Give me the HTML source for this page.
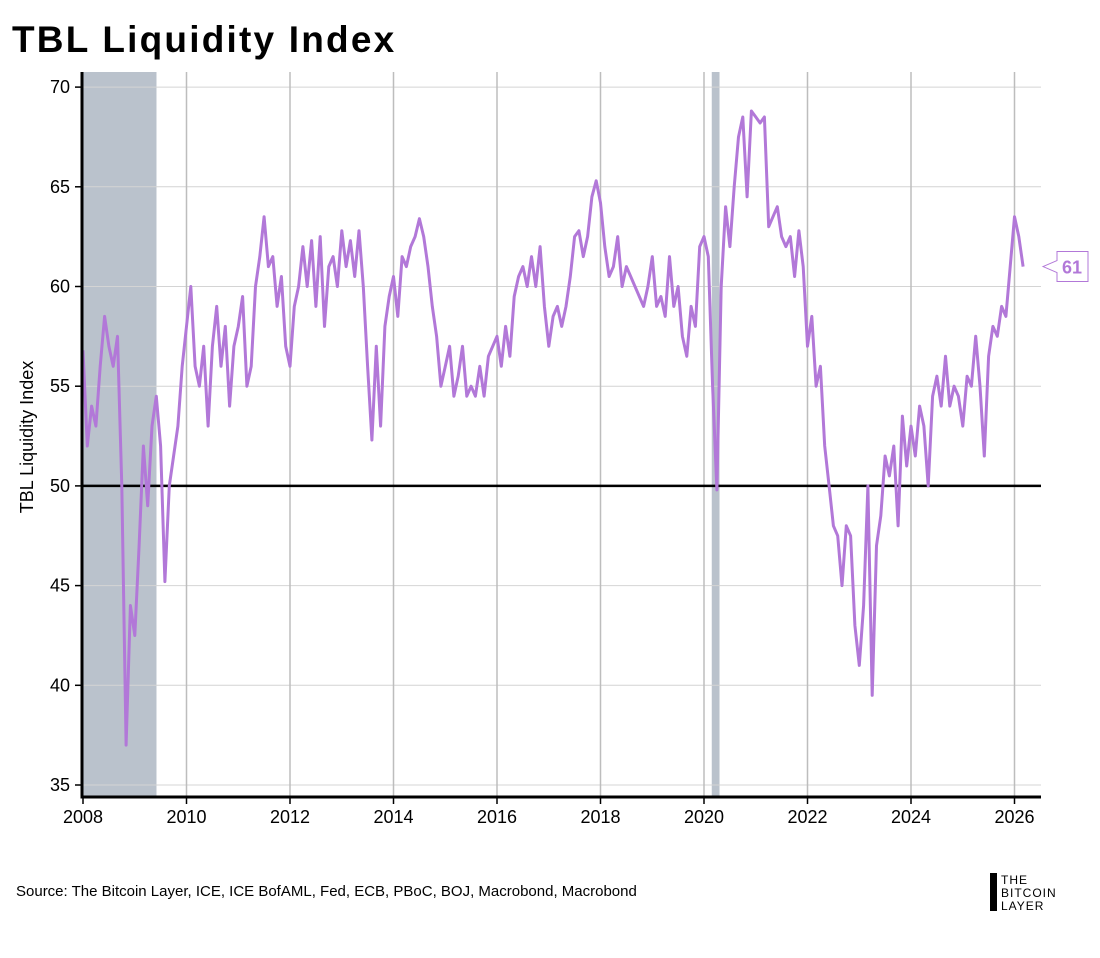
<!DOCTYPE html>
<html><head><meta charset="utf-8"><style>
body{margin:0;background:#fff;width:1100px;height:953px;overflow:hidden;font-family:"Liberation Sans",sans-serif}
</style></head><body>
<svg id="c" width="1100" height="953" viewBox="0 0 1100 953" xmlns="http://www.w3.org/2000/svg">
<text x="12" y="52" font-size="37" font-weight="bold" letter-spacing="2.2" fill="#000">TBL Liquidity Index</text>
<text transform="translate(33,437) rotate(-90)" text-anchor="middle" font-size="18" fill="#000">TBL Liquidity Index</text>
<text x="16" y="896" font-size="15" fill="#000">Source: The Bitcoin Layer, ICE, ICE BofAML, Fed, ECB, PBoC, BOJ, Macrobond, Macrobond</text>
<g>
<rect x="990" y="873" width="7" height="38" fill="#000"/>
<text x="1001" y="884" font-size="12" letter-spacing="1" fill="#000">THE</text>
<text x="1001" y="897" font-size="12" letter-spacing="1" fill="#000">BITCOIN</text>
<text x="1001" y="910" font-size="12" letter-spacing="1" fill="#000">LAYER</text>
</g>
<g id="plot"></g>
</svg>
<script>
const startYear = 2008;
const yTicks = [35,40,45,50,55,60,65,70];
const xTicks = [2008,2010,2012,2014,2016,2018,2020,2022,2024,2026];
const recessions = [[2008.0,2009.42],[2020.15,2020.3]];
const lastLabel = "61";
const values = [
56.8,52,54,53,56,58.5,57,56,57.5,50,37,44,
42.5,47,52,49,53,54.5,52,45.2,50,51.5,53,56,
58,60,56,55,57,53,57,59,56,58,54,57,
58,59.5,55,56,60,61.5,63.5,61,61.5,59,60.5,57,
56,59,60,62,60,62.3,59,62.5,58,61,61.5,60,
62.8,61,62.3,60.5,62.8,60,56,52.3,57,53,58,59.5,
60.5,58.5,61.5,61,62,62.5,63.4,62.5,61,59,57.5,55,
56,57,54.5,55.5,57,54.5,55,54.5,56,54.5,56.5,57,
57.5,56,58,56.5,59.5,60.5,61,60,61.5,60,62,59,
57,58.5,59,58,59,60.5,62.5,62.8,61.5,62.5,64.5,65.3,
64.2,62,60.5,61,62.5,60,61,60.5,60,59.5,59,60,
61.5,59,59.5,58.5,61.5,59,60,57.5,56.5,59,58,62,
62.5,61.5,55,49.8,60,64,62,65,67.5,68.5,64.5,68.8,
68.5,68.2,68.5,63,63.5,64,62.5,62,62.5,60.5,62.8,61,
57,58.5,55,56,52,50,48,47.5,45,48,47.5,43,
41,44,50,39.5,47,48.5,51.5,50.5,52,48,53.5,51,
53,51.5,54,53,50,54.5,55.5,54,56.5,54,55,54.5,
53,55.5,55,57.5,55,51.5,56.5,58,57.5,59,58.5,61,
63.5,62.5,61];
const L=82,R=1041,T=72,B=797;
const xs=y=>83+(y-2008)*51.75;
const ys=v=>785-(v-35)*19.94;
const NS="http://www.w3.org/2000/svg";
const g=document.getElementById('plot');
function mk(t,a){const e=document.createElementNS(NS,t);for(const k in a)e.setAttribute(k,a[k]);g.appendChild(e);return e;}
recessions.forEach(r=>{
 const e=mk('rect',{x:xs(r[0]),y:T,width:xs(r[1])-xs(r[0]),height:B-T,fill:'#bac2cc'});
 
 
});
yTicks.forEach(v=>{
 const l=mk('line',{x1:L,x2:R,y1:ys(v),y2:ys(v),stroke:'#d4d4d4','stroke-width':1});
 
 
 mk('line',{x1:L-7,x2:L,y1:ys(v),y2:ys(v),stroke:'#000','stroke-width':1.5});
 const t=mk('text',{x:L-12,y:ys(v)+6,'text-anchor':'end','font-size':18,fill:'#000'});
 t.textContent=v;
 
 
});
xTicks.forEach(y=>{
 if(y>2008){const l=mk('line',{x1:xs(y),x2:xs(y),y1:T,y2:B,stroke:'#bdbdbd','stroke-width':1.5});
 
 }
 mk('line',{x1:xs(y),x2:xs(y),y1:B,y2:B+7,stroke:'#000','stroke-width':1.5});
 const t=mk('text',{x:xs(y),y:B+26,'text-anchor':'middle','font-size':18,fill:'#000'});
 t.textContent=y;
 
 
});
const zl=mk('line',{x1:L,x2:R,y1:ys(50),y2:ys(50),stroke:'#000','stroke-width':2.5});


const pts=values.map((v,i)=>xs(startYear+i/12).toFixed(1)+','+ys(v).toFixed(1)).join(' ');
const pl=mk('polyline',{points:pts,fill:'none',stroke:'#b278d8','stroke-width':3,'stroke-linejoin':'round'});


const ax=mk('path',{d:`M${L},${T} V${B} H${R}`,fill:'none',stroke:'#000','stroke-width':3});


const lv=values[values.length-1], ly=ys(lv);
const tag=mk('path',{d:`M1043,${ly} L1057,${ly-6} V${ly-15} H1088 V${ly+15} H1057 V${ly+6} Z`,fill:'#fff',stroke:'#b278d8','stroke-width':1});


const tt=mk('text',{x:1072,y:ly+7,'text-anchor':'middle','font-size':18,'font-weight':'bold',fill:'#b278d8'});
tt.textContent=lastLabel;


</script>
</body></html>
